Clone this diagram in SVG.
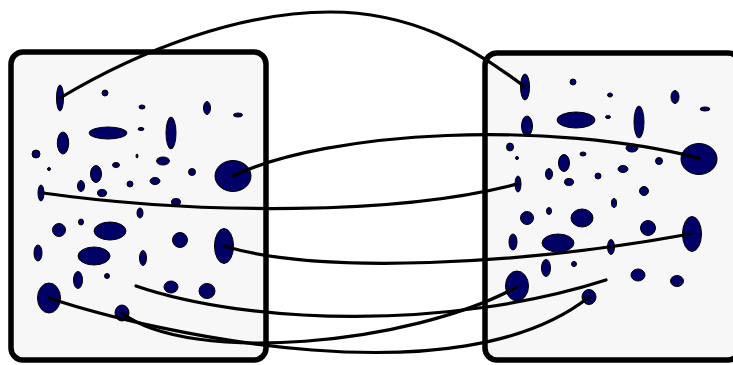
<svg xmlns="http://www.w3.org/2000/svg" width="733" height="365" viewBox="0 0 733 365">
<style>
.frame{fill:#f7f7f7;stroke:#000;stroke-width:5.5}
.blob{fill:#000066;stroke:#000;stroke-width:1}
.link{fill:none;stroke:#000;stroke-width:3.2;stroke-linecap:round}
</style>
<rect width="733" height="365" fill="#fff"/>
<g id="left-image">
<rect class="frame" x="11" y="52" width="255" height="308" rx="12"/>
<g class="blob">
<ellipse cx="60" cy="98" rx="3.5" ry="13"/>
<ellipse cx="105" cy="93" rx="3" ry="3"/>
<ellipse cx="142" cy="107" rx="3" ry="2"/>
<ellipse cx="207" cy="108" rx="3.5" ry="6.5"/>
<ellipse cx="238" cy="115" rx="4.5" ry="2"/>
<ellipse cx="63" cy="143" rx="5.7" ry="11"/>
<ellipse cx="108" cy="133" rx="19" ry="6"/>
<ellipse cx="141" cy="129" rx="3" ry="1.5"/>
<ellipse cx="171" cy="133" rx="5" ry="16"/>
<ellipse cx="36" cy="154" rx="4" ry="4"/>
<ellipse cx="137" cy="156" rx="1" ry="2"/>
<ellipse cx="163" cy="161" rx="6.5" ry="4"/>
<ellipse cx="49" cy="169" rx="1.5" ry="1.5"/>
<ellipse cx="116" cy="165" rx="3.5" ry="2.5"/>
<ellipse cx="96" cy="174" rx="5.5" ry="8.5"/>
<ellipse cx="192" cy="172" rx="3.5" ry="3.5"/>
<ellipse cx="233" cy="176" rx="18" ry="15.5"/>
<ellipse cx="81" cy="186" rx="3.5" ry="5.5"/>
<ellipse cx="130" cy="184" rx="3" ry="3"/>
<ellipse cx="155" cy="181" rx="5" ry="3.5"/>
<ellipse cx="102" cy="193" rx="4.5" ry="3.5"/>
<ellipse cx="41" cy="193" rx="3" ry="8"/>
<ellipse cx="176" cy="202" rx="4.5" ry="3.5"/>
<ellipse cx="140" cy="213" rx="3" ry="5"/>
<ellipse cx="59" cy="230" rx="6.5" ry="6.5"/>
<ellipse cx="81" cy="222" rx="2.5" ry="3"/>
<ellipse cx="110" cy="231" rx="16" ry="9"/>
<ellipse cx="180" cy="240" rx="7.5" ry="7.5"/>
<ellipse cx="224" cy="246" rx="9.5" ry="17.5"/>
<ellipse cx="38" cy="253" rx="4" ry="8"/>
<ellipse cx="94" cy="256" rx="16" ry="9"/>
<ellipse cx="143" cy="258" rx="3.5" ry="7.5"/>
<ellipse cx="78" cy="280" rx="4.5" ry="8.5"/>
<ellipse cx="107" cy="276" rx="2.5" ry="2.5"/>
<ellipse cx="171" cy="287" rx="7" ry="6"/>
<ellipse cx="207" cy="291" rx="8" ry="7.5"/>
<ellipse cx="49" cy="298" rx="11.5" ry="15"/>
<ellipse cx="122" cy="313" rx="7" ry="8"/>
</g>
</g>
<g id="right-image">
<rect class="frame" x="485" y="53" width="255" height="307" rx="12"/>
<g class="blob">
<ellipse cx="525" cy="87" rx="4.5" ry="13"/>
<ellipse cx="573" cy="82" rx="3" ry="3"/>
<ellipse cx="610" cy="95" rx="2.5" ry="2"/>
<ellipse cx="675" cy="97" rx="4" ry="6.5"/>
<ellipse cx="705" cy="109" rx="5" ry="2"/>
<ellipse cx="527" cy="126" rx="5.5" ry="10"/>
<ellipse cx="576" cy="120" rx="19" ry="8"/>
<ellipse cx="608" cy="117" rx="2.5" ry="1.5"/>
<ellipse cx="639" cy="122" rx="5" ry="16"/>
<ellipse cx="510" cy="147" rx="3.5" ry="4"/>
<ellipse cx="632" cy="148" rx="6" ry="4"/>
<ellipse cx="699" cy="159" rx="18" ry="15.5"/>
<ellipse cx="517" cy="158" rx="1.5" ry="1.5"/>
<ellipse cx="583" cy="154" rx="3" ry="2"/>
<ellipse cx="564" cy="163" rx="5.5" ry="8.5"/>
<ellipse cx="659" cy="161" rx="3.5" ry="3.5"/>
<ellipse cx="549" cy="174" rx="3.5" ry="5.5"/>
<ellipse cx="598" cy="176" rx="3" ry="3"/>
<ellipse cx="623" cy="169" rx="5" ry="3.5"/>
<ellipse cx="569" cy="182" rx="4.5" ry="3.5"/>
<ellipse cx="518" cy="184" rx="3" ry="8"/>
<ellipse cx="644" cy="191" rx="4.5" ry="4.5"/>
<ellipse cx="614" cy="203" rx="2.5" ry="4.5"/>
<ellipse cx="549" cy="211" rx="2.5" ry="3.5"/>
<ellipse cx="527" cy="218" rx="6.5" ry="6.5"/>
<ellipse cx="582" cy="218" rx="11" ry="9"/>
<ellipse cx="648" cy="228" rx="7.5" ry="7.5"/>
<ellipse cx="692" cy="234" rx="9.5" ry="17.5"/>
<ellipse cx="513" cy="242" rx="4" ry="8"/>
<ellipse cx="558" cy="243" rx="16" ry="9"/>
<ellipse cx="611" cy="247" rx="3.5" ry="7.5"/>
<ellipse cx="546" cy="268" rx="4.5" ry="8.5"/>
<ellipse cx="574" cy="264" rx="2.5" ry="2.5"/>
<ellipse cx="638" cy="275" rx="7" ry="6"/>
<ellipse cx="677" cy="281" rx="6.5" ry="5.5"/>
<ellipse cx="517" cy="286" rx="11.5" ry="15"/>
<ellipse cx="589" cy="297" rx="7" ry="7.5"/>
</g>
</g>
<g id="connectors" class="link">
<path d="M60,98 C140,50 240,12 330,12 C410,12 470,45 525,87"/>
<path d="M233,176 C330,130 550,120 699,158"/>
<path d="M43,193 C200,215 400,215 517,184"/>
<path d="M224,246 C320,275 520,265 690,234"/>
<path d="M49,298 C160,335 460,400 589,297"/>
<path d="M122,313 C190,365 410,345 517,287"/>
<path d="M136,286 C250,325 450,330 606,280"/>
</g>
</svg>
